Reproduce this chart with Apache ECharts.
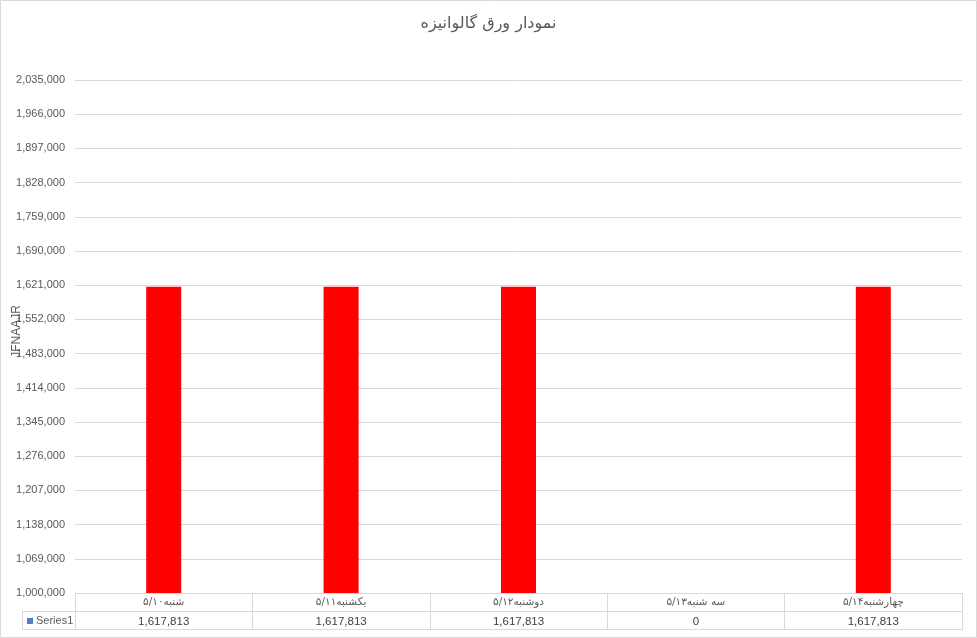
<!DOCTYPE html>
<html>
<head>
<meta charset="utf-8">
<script src="https://cdn.jsdelivr.net/npm/echarts@6/dist/echarts.min.js"></script>
<style>
  html, body { margin: 0; padding: 0; background: #fff; }
  #main { width: 977px; height: 638px; }
</style>
</head>
<body>
<div id="main"></div>
<script>
var titleText = 'نمودار ورق گالوانیزه';
var yName = 'JFNAAJR';
var seriesName = 'Series1';
var categories = ['۵/۱۰شنبه', '۵/۱۱یکشنبه', '۵/۱۲دوشنبه', '۵/۱۳سه شنبه', '۵/۱۴چهارشنبه'];
var values = [1617813, 1617813, 1617813, 0, 1617813];
var yTicks = [1000000, 1069000, 1138000, 1207000, 1276000, 1345000, 1414000, 1483000,
              1552000, 1621000, 1690000, 1759000, 1828000, 1897000, 1966000, 2035000];

var myChart = echarts.init(document.getElementById('main'));
var gridColor = '#d9d9d9';
var textColor = '#595959';
var numFont = 'Liberation Sans, Arial, sans-serif';

function fmt(v) { return Number(v).toLocaleString('en-US'); }

option = {
    animation: false,
    title: {
        text: titleText,
        left: 'center',
        top: 11,
        textStyle: { fontSize: 16, fontWeight: 'normal', color: textColor, fontFamily: 'DejaVu Sans, sans-serif' }
    },
    grid: { left: 75, right: 15, top: 80, bottom: 45, containLabel: false, outerBoundsMode: 'none' },
    xAxis: {
        type: 'category',
        data: categories,
        axisLine: { lineStyle: { color: gridColor } },
        axisTick: { show: true, alignWithLabel: false, interval: 0, length: 37, lineStyle: { color: gridColor } },
        axisLabel: {
            interval: 0,
            margin: 0,
            formatter: function (val, idx) {
                return '{c|' + val + '}\n{v|' + fmt(values[idx]) + '}';
            },
            rich: {
                c: { fontSize: 10.5, color: textColor, lineHeight: 19, fontFamily: 'DejaVu Sans, sans-serif' },
                v: { fontSize: 11.5, color: '#404040', lineHeight: 19, fontFamily: numFont }
            }
        }
    },
    yAxis: {
        type: 'value',
        min: yTicks[0],
        max: yTicks[yTicks.length - 1],
        name: yName,
        nameLocation: 'middle',
        nameGap: 52,
        nameMoveOverlap: false,
        nameTextStyle: { color: textColor, fontSize: 12, fontFamily: numFont, padding: [0, 0, 0, 10] },
        axisLine: { show: false },
        axisTick: { show: false, customValues: yTicks },
        axisLabel: {
            customValues: yTicks,
            margin: 10,
            color: textColor,
            fontSize: 11,
            fontFamily: numFont,
            formatter: function (v) { return fmt(v); }
        },
        splitLine: { show: true, lineStyle: { color: gridColor } }
    },
    series: [{
        name: seriesName,
        type: 'bar',
        data: values,
        barWidth: 35,
        clip: true,
        itemStyle: { color: '#ff0000' }
    }],
    graphic: [
        { type: 'rect', shape: { x: 0.5, y: 0.5, width: 976, height: 637 }, style: { fill: 'none', stroke: gridColor } },
        { type: 'line', shape: { x1: 22, y1: 611.5, x2: 962, y2: 611.5 }, style: { stroke: gridColor } },
        { type: 'line', shape: { x1: 22, y1: 629.5, x2: 962, y2: 629.5 }, style: { stroke: gridColor } },
        { type: 'line', shape: { x1: 22.5, y1: 611.5, x2: 22.5, y2: 629.5 }, style: { stroke: gridColor } },
        { type: 'rect', shape: { x: 27, y: 618, width: 6, height: 6 }, style: { fill: '#4f81bd' } },
        { type: 'text', x: 36, y: 621, style: { text: seriesName, fill: textColor, fontSize: 11, fontFamily: numFont, verticalAlign: 'middle' } }
    ]
};
myChart.setOption(option);
</script>
</body>
</html>
